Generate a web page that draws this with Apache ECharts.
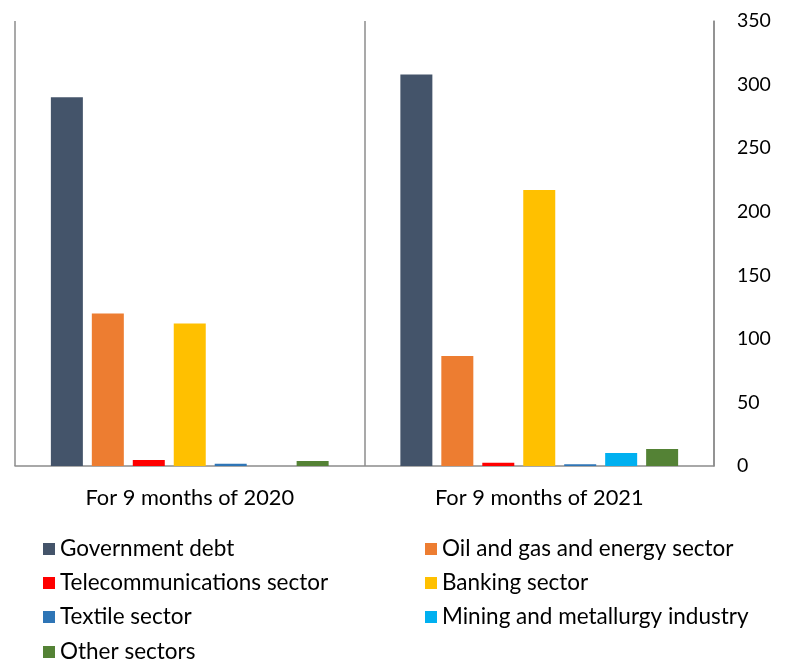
<!DOCTYPE html>
<html><head><meta charset="utf-8">
<script src="https://cdn.jsdelivr.net/npm/echarts@6/dist/echarts.min.js"></script>
<style>html,body{margin:0;padding:0;background:#fff}#c{width:787px;height:661px}</style>
</head><body><div id="c"></div>
<script>
const categories = ['For 9 months of 2020', 'For 9 months of 2021'];
const seriesNames = ['Government debt', 'Oil and gas and energy sector', 'Telecommunications sector', 'Banking sector', 'Textile sector', 'Mining and metallurgy industry', 'Other sectors'];
const governmentDebt = [290, 308];
const oilGasEnergy = [120, 86.5];
const telecom = [4.7, 2.6];
const banking = [112, 217];
const textile = [1.8, 1.3];
const mining = [0, 10.2];
const otherSectors = [3.9, 13.4];
const yTicks = [0, 350, 50];
const colors = ['#44546A', '#ED7D31', '#FF0000', '#FFC000', '#2E75B6', '#00B0F0', '#548235'];
const values = [governmentDebt, oilGasEnergy, telecom, banking, textile, mining, otherSectors];

const font = 'Lato';
// legend layout: two columns, four rows
const legendCols = [43, 425];
const legendRows = [549, 583, 617, 652];
const legends = seriesNames.map((n, i) => ({
  data: [n], orient: 'horizontal', padding: 0,
  left: legendCols[i % 2], top: legendRows[Math.floor(i / 2)] - 12,
  itemWidth: 12, itemHeight: 12, icon: 'rect',
  textStyle: {fontFamily: font, fontSize: 22.5, lineHeight: 24, color: '#000'}
}));

const chart = echarts.init(document.getElementById('c'), null, {renderer: 'canvas'});
chart.setOption({
  animation: false,
  color: colors,
  grid: {left: 15, right: 73, top: 21, bottom: 195},
  legend: legends,
  xAxis: {
    type: 'category', data: categories,
    axisLine: {lineStyle: {color: '#8c8c8c', width: 1.5}},
    axisTick: {show: false},
    axisLabel: {fontFamily: font, fontSize: 21.8, color: '#000', margin: 21},
    splitLine: {show: true, lineStyle: {color: '#8c8c8c', width: 1.5}}
  },
  yAxis: {
    type: 'value', position: 'right', min: yTicks[0], max: yTicks[1], interval: yTicks[2],
    axisLine: {show: true, lineStyle: {color: '#8c8c8c', width: 1.5}},
    axisTick: {show: false},
    splitLine: {show: false},
    axisLabel: {fontFamily: font, fontSize: 19.5, color: '#000', margin: 23}
  },
  series: seriesNames.map((n, i) => ({
    name: n, type: 'bar', data: values[i],
    barWidth: 32, barGap: '28%', barCategoryGap: '20%',
    itemStyle: {color: colors[i]}
  }))
});
</script></body></html>
